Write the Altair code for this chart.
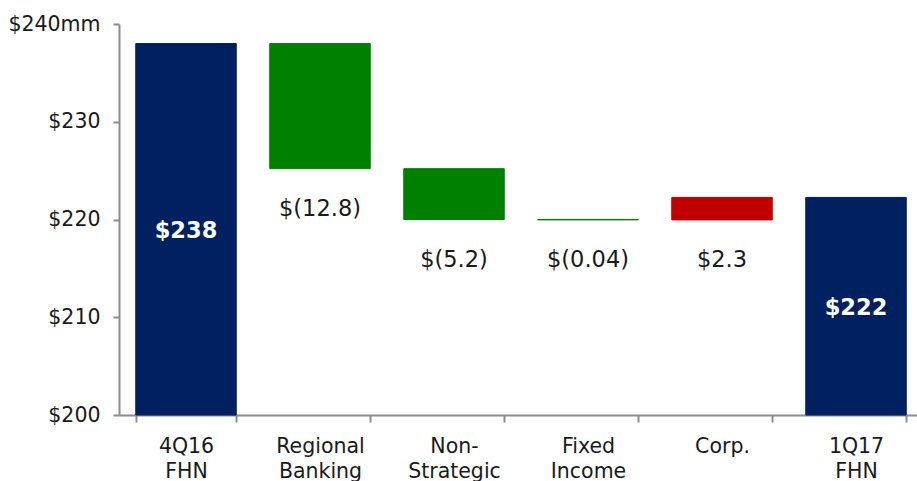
import altair as alt
import pandas as pd

categories = ["4Q16\nFHN", "Regional\nBanking", "Non-\nStrategic", "Fixed\nIncome", "Corp.", "1Q17\nFHN"]
bar_start = [200.0, 238.0, 225.2, 220.0, 219.96, 200.0]
bar_end = [238.0, 225.2, 220.0, 219.96, 222.26, 222.26]
value_labels = ["$238", "$(12.8)", "$(5.2)", "$(0.04)", "$2.3", "$222"]
kinds = ["total", "decrease", "decrease", "decrease", "increase", "total"]
y_ticks = [200, 210, 220, 230, 240]

df = pd.DataFrame({
    "cat": categories,
    "start": bar_start,
    "end": bar_end,
    "label": value_labels,
    "kind": kinds,
})
df["lo"] = df[["start", "end"]].min(axis=1)
df["mid"] = (df["start"] + df["end"]) / 2

FONT = "DejaVu Sans"
AXIS_GRAY = "#8c8c8c"
TEXT = "#1a1a1a"

x_enc = alt.X("cat:N", sort=categories, title=None,
              scale=alt.Scale(range=[0, 804], paddingInner=0.25, paddingOuter=0.125),
              axis=alt.Axis(labelAngle=0, labelExpr="split(datum.label, '\\n')",
                            tickBand="extent", tickSize=7, labelPadding=14,
                            labelFont=FONT, labelFontSize=20.5, labelColor=TEXT,
                            labelLineHeight=25, domainColor=AXIS_GRAY, tickColor=AXIS_GRAY,
                            domainWidth=2, tickWidth=2))
y_scale = alt.Scale(domain=[200, 240], nice=False, zero=False)

color_scale = alt.Scale(domain=["total", "decrease", "increase"],
                        range=["#002060", "#008000", "#C00000"])

bars = alt.Chart(df).mark_bar(strokeWidth=1).encode(
    x=x_enc,
    y=alt.Y("start:Q", scale=y_scale, title=None,
            axis=alt.Axis(values=y_ticks, grid=False, tickSize=6, labelPadding=13,
                          labelExpr="datum.value == 240 ? '$240mm' : '$' + datum.value",
                          labelFont=FONT, labelFontSize=20.5, labelColor=TEXT,
                          domainColor=AXIS_GRAY, tickColor=AXIS_GRAY,
                          domainWidth=2, tickWidth=2)),
    y2="end:Q",
    color=alt.Color("kind:N", scale=color_scale, legend=None),
    stroke=alt.Color("kind:N", scale=color_scale, legend=None),
)

total_text = alt.Chart(df).transform_filter("datum.kind == 'total'").mark_text(
    font=FONT, fontSize=22.5, fontWeight="bold", color="white", baseline="middle", dy=2
).encode(x=alt.X("cat:N", sort=categories), y=alt.Y("mid:Q", scale=y_scale), text="label:N")

change_text = alt.Chart(df).transform_filter("datum.kind != 'total'").mark_text(
    font=FONT, fontSize=22.5, color=TEXT, baseline="middle", dy=40
).encode(x=alt.X("cat:N", sort=categories), y=alt.Y("lo:Q", scale=y_scale), text="label:N")

chart = alt.layer(bars, total_text, change_text).properties(
    width=798, height=391,
    padding={"left": 119, "top": 24, "right": 0, "bottom": 66},
    autosize="none",
    background="white",
).configure_view(stroke=None)

chart.save("out.html", embed_options={"renderer": "svg", "actions": False})
